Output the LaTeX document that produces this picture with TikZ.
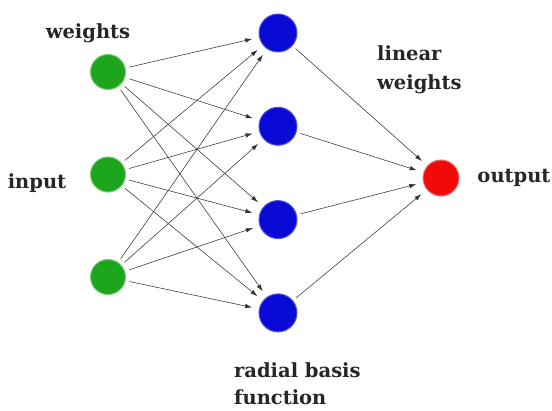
\documentclass[tikz,border=0pt]{standalone}
\usepackage{xcolor}
\usepackage{fontspec}
\setmainfont{DejaVu Serif}
\usepackage{tikz}
\usetikzlibrary{positioning,arrows.meta}
\tikzset{>=Latex}

\definecolor{inputgreen}{RGB}{30,165,30}
\definecolor{rbfblue}{RGB}{10,10,215}
\definecolor{outred}{RGB}{240,10,10}

\begin{document}
\begin{tikzpicture}[
x=1pt, y=1pt, on grid,
greennode/.style={circle, fill=inputgreen, draw=inputgreen!60, line width=1pt, minimum size=35pt, inner sep=0pt},
bluenode/.style={circle, fill=rbfblue, draw=rbfblue!70, line width=1pt, minimum size=38pt, inner sep=0pt},
rednode/.style={circle, fill=outred, draw=outred!60, line width=1pt, minimum size=36pt, inner sep=0pt},
labeltext/.style={align=left, inner sep=0pt, text=black!85, font=\fontsize{19.5}{29.5}\selectfont\bfseries},
link/.style={->, draw=black!80, line width=0.55pt, shorten >=7pt, shorten <=4pt, >={Latex[length=7pt,width=4.5pt]}},
]
\useasboundingbox (0,0) rectangle (552,410);

%Nodes
\node[greennode](In1) at (108,338){};
\node[greennode](In2)[below=102.5pt of In1]{};
\node[greennode](In3)[below=102.5pt of In2]{};
\node[bluenode](Rbf1) at (278,377){};
\node[bluenode](Rbf2)[below=93.3pt of Rbf1]{};
\node[bluenode](Rbf3)[below=93.3pt of Rbf2]{};
\node[bluenode](Rbf4)[below=93.3pt of Rbf3]{};
\node[rednode](Out) at (441,232){};

%Labels
\node[labeltext](Weights) at (88,377){weights};
\node[labeltext](Input) at (37,227){input};
\node[labeltext, anchor=west](Linear) at (377,340){linear\\weights};
\node[labeltext](Output) at (514,232){output};
\node[labeltext, anchor=west, font=\fontsize{19.5}{27}\selectfont\bfseries](Radial) at (234,26){radial basis\\ function};

%Lines
\draw[link] (In1) -- (Rbf1);
\draw[link] (In1) -- (Rbf2);
\draw[link] (In1) -- (Rbf3);
\draw[link] (In1) -- (Rbf4);
\draw[link] (In2) -- (Rbf1);
\draw[link] (In2) -- (Rbf2);
\draw[link] (In2) -- (Rbf3);
\draw[link] (In2) -- (Rbf4);
\draw[link] (In3) -- (Rbf1);
\draw[link] (In3) -- (Rbf2);
\draw[link] (In3) -- (Rbf3);
\draw[link] (In3) -- (Rbf4);
\draw[link] (Rbf1) -- (Out);
\draw[link] (Rbf2) -- (Out);
\draw[link] (Rbf3) -- (Out);
\draw[link] (Rbf4) -- (Out);
\end{tikzpicture}
\end{document}
